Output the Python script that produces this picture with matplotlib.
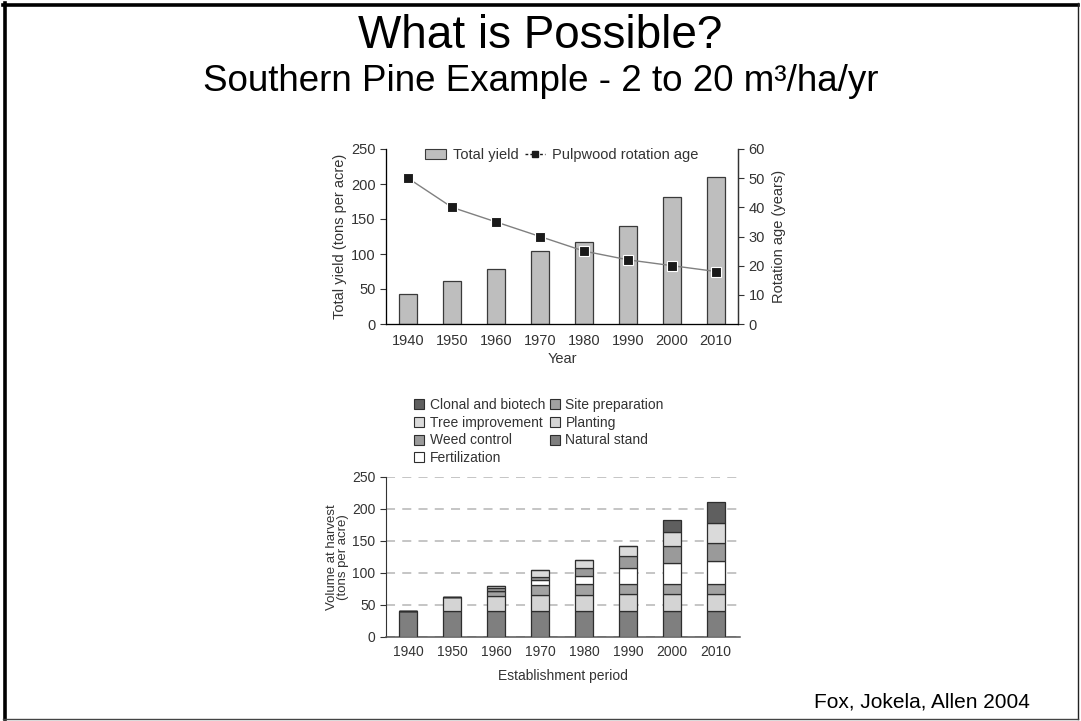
import matplotlib
matplotlib.use("Agg")
import matplotlib.pyplot as plt
import numpy as np
from matplotlib.lines import Line2D
from matplotlib.patches import Patch

plt.rcParams['font.family'] = ['Liberation Sans', 'DejaVu Sans']

# ---- data ----
years = ['1940', '1950', '1960', '1970', '1980', '1990', '2000', '2010']
total_yield = [43, 62, 79, 105, 117, 140, 182, 210]          # tons per acre
rotation_age = [50, 40, 35, 30, 25, 22, 20, 18]               # years

# contributions to volume at harvest (tons per acre), bottom to top
natural_stand = [40, 40, 40, 40, 40, 40, 40, 40]
planting = [0, 22, 23, 25, 25, 26, 26, 26]
site_preparation = [0, 0, 9, 16, 17, 17, 17, 17]
fertilization = [0, 0, 0, 8, 13, 25, 32, 36]
weed_control = [0, 0, 4, 5, 13, 18, 27, 28]
tree_improvement = [0, 0, 4, 11, 12, 15, 21, 31]
clonal_biotech = [0, 0, 0, 0, 0, 0, 20, 32]

components = [
    ('Natural stand', natural_stand, '#7f7f7f'),
    ('Planting', planting, '#d4d4d4'),
    ('Site preparation', site_preparation, '#a2a2a2'),
    ('Fertilization', fertilization, '#ffffff'),
    ('Weed control', weed_control, '#9a9a9a'),
    ('Tree improvement', tree_improvement, '#dadada'),
    ('Clonal and biotech', clonal_biotech, '#5f5f5f'),
]

W, H = 1081, 721
fig = plt.figure(figsize=(W / 100, H / 100), dpi=100)
fig.patch.set_facecolor('white')

# slide frame
fig.add_artist(Line2D([3 / W, 1078 / W], [1 - 4.5 / H, 1 - 4.5 / H], color='black', lw=2.6,
                      transform=fig.transFigure))
fig.add_artist(Line2D([4.5 / W, 4.5 / W], [1 - 3 / H, 2 / H], color='black', lw=2.6,
                      transform=fig.transFigure))
fig.add_artist(Line2D([1078 / W, 1078 / W], [1 - 3 / H, 2.5 / H], color='#222222', lw=1.0,
                      transform=fig.transFigure))
fig.add_artist(Line2D([3 / W, 1078 / W], [2.5 / H, 2.5 / H], color='#444444', lw=1.0,
                      transform=fig.transFigure))

# titles
fig.text(0.5, 1 - 48 / H, 'What is Possible?', ha='center', va='baseline', fontsize=33)
fig.text(0.5, 1 - 91 / H, 'Southern Pine Example - 2 to 20 m\u00b3/ha/yr', ha='center',
         va='baseline', fontsize=26.5)
fig.text(1030 / W, 1 - 708 / H, 'Fox, Jokela, Allen 2004', ha='right', va='baseline',
         fontsize=15)

x = np.arange(len(years))
bar_w = 0.41
tick_fs = 10.5
text_col = '#333333'

# ---- top chart: total yield and rotation age ----
ax = fig.add_axes([386 / W, 1 - 324 / H, 352 / W, 175 / H])
ax.bar(x, total_yield, width=bar_w, color='#bebebe', edgecolor='#3a3a3a', linewidth=0.9,
       zorder=2)
ax.set_xlim(-0.5, 7.5)
ax.set_ylim(0, 250)
ax.set_yticks(range(0, 251, 50))
ax.set_xticks(x)
ax.set_xticklabels(years)
ax.tick_params(axis='x', length=0, pad=7, labelsize=tick_fs, labelcolor=text_col)
ax.tick_params(axis='y', length=4, width=0.8, labelsize=tick_fs, labelcolor=text_col, color='#333')
ax.set_ylabel('Total yield (tons per acre)', fontsize=tick_fs, color=text_col, labelpad=3)
ax.set_xlabel('Year', fontsize=tick_fs, color=text_col, labelpad=3)
ax.spines['top'].set_visible(False)
for s in ('left', 'bottom', 'right'):
    ax.spines[s].set_color('#333333')
    ax.spines[s].set_linewidth(0.9)

ax2 = ax.twinx()
ax2.set_ylim(0, 60)
ax2.set_yticks(range(0, 61, 10))
ax2.plot(x, rotation_age, color='#808080', lw=1.0, marker='s', markersize=6.5,
         markerfacecolor='#1a1a1a', markeredgecolor='white', markeredgewidth=0.8, zorder=3)
ax2.tick_params(axis='y', length=4, width=0.8, labelsize=tick_fs, labelcolor=text_col, color='#333')
ax2.set_ylabel('Rotation age (years)', fontsize=tick_fs, color=text_col, labelpad=5)
ax2.spines['top'].set_visible(False)
ax2.spines['right'].set_color('#333333')
ax2.spines['right'].set_linewidth(0.9)

line_handle = Line2D([0], [0], color='#1a1a1a', lw=1.0, linestyle=(0, (2, 1.5)), marker='s',
                     markersize=4.5, markerfacecolor='#1a1a1a', markeredgecolor='#1a1a1a')
bar_handle = Patch(facecolor='#bebebe', edgecolor='#3a3a3a', linewidth=0.8)
leg = ax2.legend([bar_handle, line_handle], ['Total yield', 'Pulpwood rotation age'],
                 loc='upper center', bbox_to_anchor=(0.5, 1.04), ncol=2, frameon=False,
                 fontsize=tick_fs, handlelength=1.4, handletextpad=0.5, columnspacing=0.4,
                 borderaxespad=0.0)
for t in leg.get_texts():
    t.set_color(text_col)

# ---- bottom chart: stacked contributions ----
bx = fig.add_axes([386 / W, 1 - 636.7 / H, 354 / W, 160 / H])
bottom = np.zeros(len(years))
handles = {}
for name, vals, col in components:
    vals = np.asarray(vals, dtype=float)
    bx.bar(x, vals, width=bar_w, bottom=bottom, color=col, edgecolor='#2e2e2e',
           linewidth=0.9, zorder=3)
    handles[name] = Patch(facecolor=col, edgecolor='#2e2e2e', linewidth=0.8)
    bottom += vals

bfs = 10
bx.set_xlim(-0.5, 7.55)
bx.set_ylim(0, 250)
bx.set_yticks(range(0, 251, 50))
bx.yaxis.grid(True, color='#c0c0c0', linestyle=(0, (5, 4)), linewidth=1.3, zorder=0)
bx.set_axisbelow(True)
bx.set_xticks(x)
bx.set_xticklabels(years)
bx.tick_params(axis='x', length=0, pad=6, labelsize=bfs, labelcolor=text_col)
bx.tick_params(axis='y', length=4, width=0.8, labelsize=bfs, labelcolor=text_col, color='#333')
bx.set_ylabel('Volume at harvest\n(tons per acre)', fontsize=bfs - 0.5, color=text_col,
              labelpad=2, linespacing=0.95)
bx.set_xlabel('Establishment period', fontsize=bfs, color=text_col, labelpad=7)
for s in ('top', 'right'):
    bx.spines[s].set_visible(False)
bx.spines['left'].set_color('#333333')
bx.spines['bottom'].set_color('#555555')
bx.spines['bottom'].set_linewidth(1.1)

legend_order = ['Clonal and biotech', 'Tree improvement', 'Weed control', 'Fertilization',
                'Site preparation', 'Planting', 'Natural stand']
leg2 = fig.legend([handles[n] for n in legend_order], legend_order, ncol=2,
                  loc='upper left', bbox_to_anchor=(414 / W, 1 - 398 / H), frameon=False,
                  fontsize=10, handlelength=0.75, handleheight=0.75, handletextpad=0.4,
                  columnspacing=0.3, labelspacing=0.27, borderaxespad=0.0, borderpad=0.0)
for t in leg2.get_texts():
    t.set_color(text_col)

fig.savefig('out.png', dpi=100, facecolor='white')
